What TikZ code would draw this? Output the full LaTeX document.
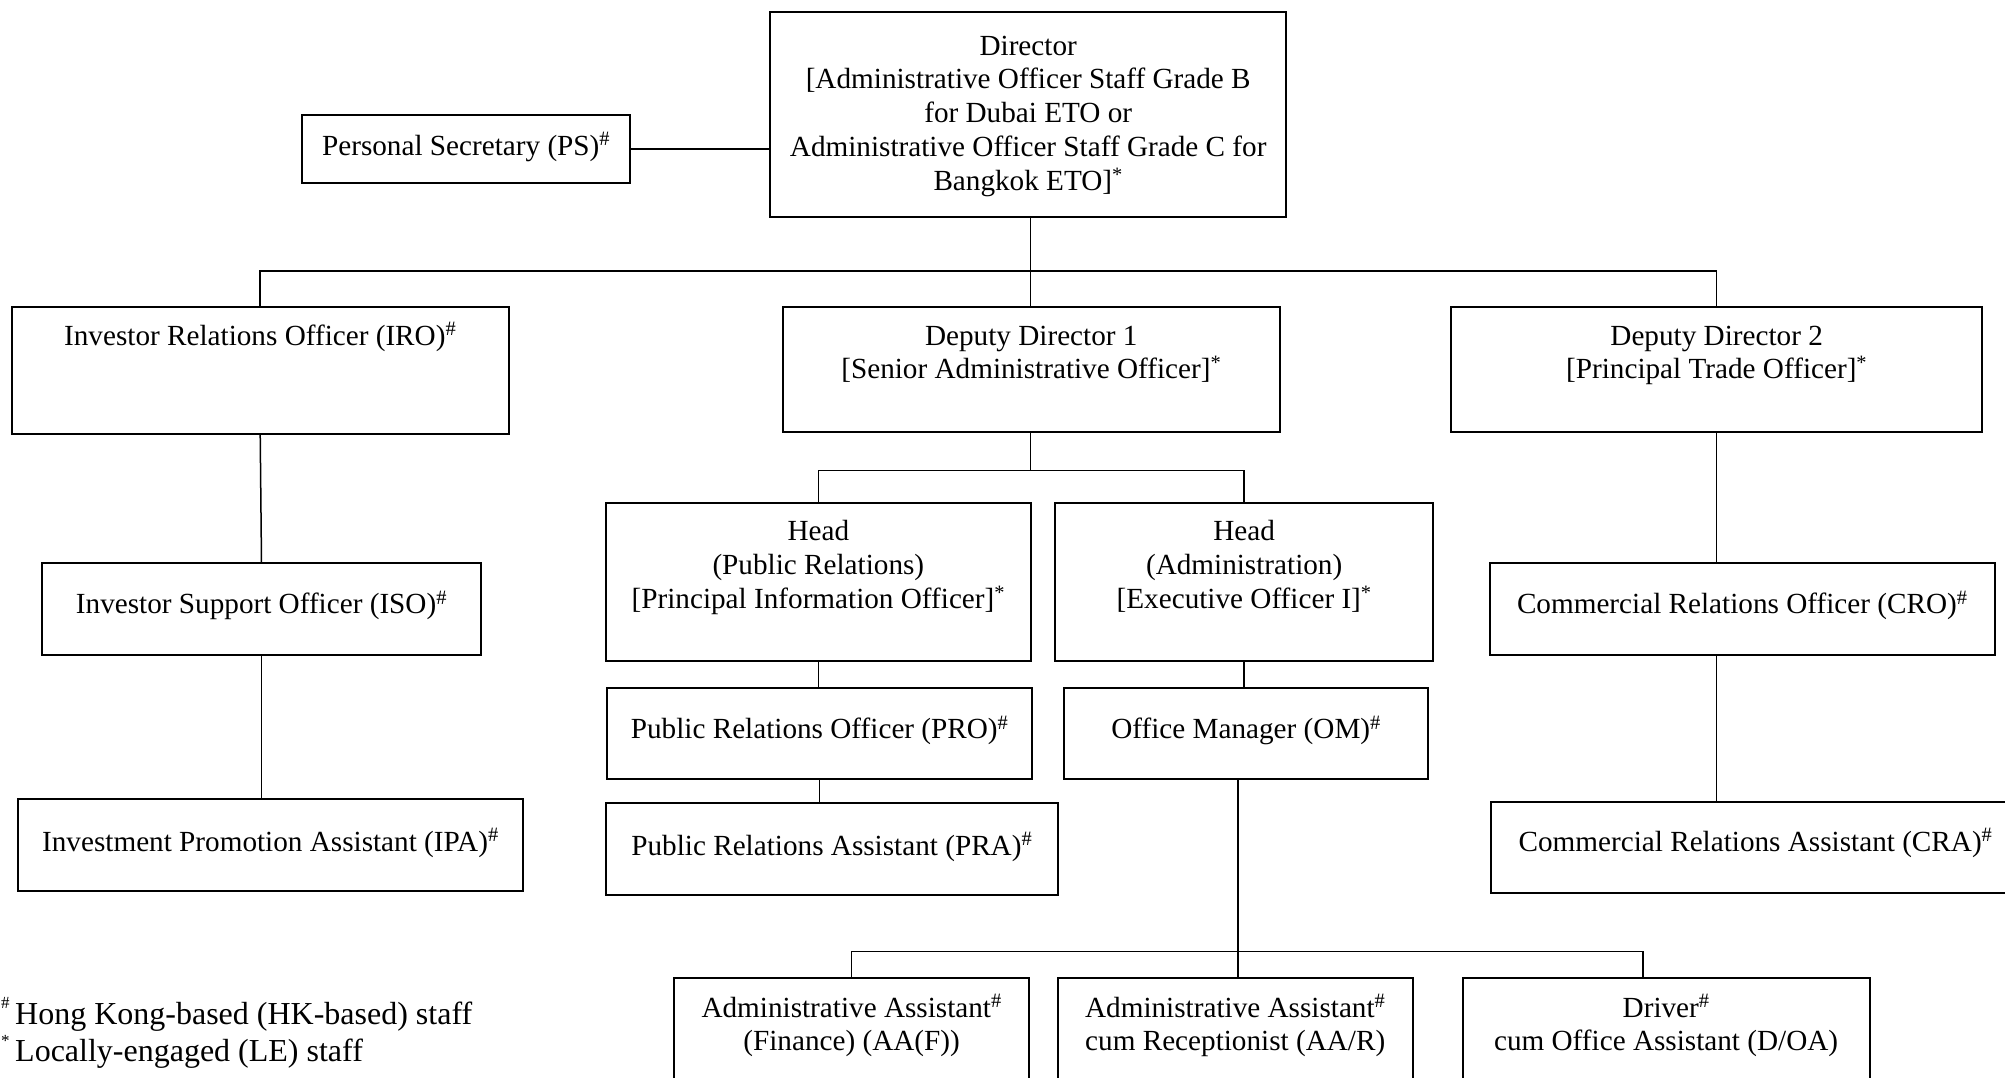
\documentclass[tikz,border=0pt]{standalone}
\usepackage{fontspec}
\setmainfont{Liberation Serif}
\tikzset{
  orgbox/.style={draw, line width=2pt, anchor=north west, inner sep=0pt, outer sep=0pt, font=\fontsize{29.2}{33.8}\selectfont},
  conn/.style={line width=1.5pt},
  legendtext/.style={anchor=base west, inner sep=0pt, font=\fontsize{32}{37}\selectfont},
  legendmark/.style={anchor=base west, inner sep=0pt, font=\fontsize{17}{17}\selectfont},
}
\newcommand\OB[7]{\node[orgbox] (#1) at (#2,#3) {\parbox[c][\dimexpr #5pt-#3pt\relax][t]{\dimexpr #4pt-#2pt\relax}{\centering\rule{0pt}{\dimexpr #6pt-#3pt\relax}#7\par}};}
\begin{document}
\begin{tikzpicture}[x=1pt,y=-1pt]
\clip (0,0) rectangle (2005,1077);
\fill[white] (0,0) rectangle (2005,1077);
\OB{DIR}{770}{11.5}{1286.4}{217.4}{55}{Director\\{}[Administrative Officer Staff Grade B\\for Dubai ETO or\\Administrative Officer Staff Grade C for\\Bangkok ETO]\textsuperscript{*}}
\OB{PS}{301.8}{115.1}{630.4}{182.9}{155}{Personal Secretary (PS)\textsuperscript{\#}}
\OB{IRO}{11.5}{306.9}{508.9}{433.5}{345}{Investor Relations Officer (IRO)\textsuperscript{\#}}
\OB{DD1}{782.6}{306.9}{1280}{432.2}{345}{Deputy Director 1\\{}[Senior Administrative Officer]\textsuperscript{*}}
\OB{DD2}{1451.3}{306.9}{1982}{432.2}{345}{Deputy Director 2\\{}[Principal Trade Officer]\textsuperscript{*}}
\OB{ISO}{42.2}{562.6}{480.8}{654.7}{613.5}{Investor Support Officer (ISO)\textsuperscript{\#}}
\OB{IPA}{17.9}{799.2}{523}{891.3}{851}{Investment Promotion Assistant (IPA)\textsuperscript{\#}}
\OB{HPR}{606.1}{502.5}{1030.6}{661.1}{540.5}{Head\\(Public Relations)\\{}[Principal Information Officer]\textsuperscript{*}}
\OB{HAD}{1054.9}{502.5}{1433.4}{661.1}{540.5}{Head\\(Administration)\\{}[Executive Officer I]\textsuperscript{*}}
\OB{PRO}{607.4}{688}{1031.9}{778.7}{738.5}{Public Relations Officer (PRO)\textsuperscript{\#}}
\OB{PRA}{606.1}{803}{1057.5}{895.1}{855}{Public Relations Assistant (PRA)\textsuperscript{\#}}
\OB{OM}{1063.9}{688}{1428.3}{778.7}{738.5}{Office Manager (OM)\textsuperscript{\#}}
\OB{AAF}{673.9}{978.2}{1029.4}{1110}{1017}{Administrative Assistant\textsuperscript{\#}\\(Finance) (AA(F))}
\OB{AAR}{1057.5}{978.2}{1413}{1110}{1017}{Administrative Assistant\textsuperscript{\#}\\cum Receptionist (AA/R)}
\OB{DRV}{1462.8}{978.2}{1869.5}{1110}{1017}{Driver\textsuperscript{\#}\\cum Office Assistant (D/OA)}
\OB{CRO}{1489.7}{562.6}{1994.8}{654.7}{613.5}{Commercial Relations Officer (CRO)\textsuperscript{\#}}
\OB{CRA}{1491}{801.7}{2020}{892.5}{851}{Commercial Relations Assistant (CRA)\textsuperscript{\#}}
% bus points
\coordinate (b1) at (1030.6,271.1);
\coordinate (b2) at (1030.6,470.6);
\coordinate (b3) at (1237.8,951.3);
\coordinate (b4) at (1643.1,951.3);
% connectors
\draw[conn] (PS.east) -- (PS.east -| DIR.west);
\draw[conn] (b1 |- DIR.south) -- (b1 |- DD1.north);
\draw[conn] (IRO.north) |- (b1) -| (DD2.north);
\draw[conn] (IRO.south) -- (ISO.north);
\draw[conn] (ISO.south) -- (ISO.south |- IPA.north);
\draw[conn] (b2 |- DD1.south) -- (b2);
\draw[conn] (HPR.north) |- (b2) -| (HAD.north);
\draw[conn] (HPR.south) -- (HPR.south |- PRO.north);
\draw[conn] (PRO.south) -- (PRO.south |- PRA.north);
\draw[conn] (HAD.south) -- (HAD.south |- OM.north);
\draw[conn] (b3 |- OM.south) -- (b3 |- AAR.north);
\draw[conn] (AAF.north) |- (b4) -- (b4 |- DRV.north);
\draw[conn] (DD2.south) -- (DD2.south |- CRO.north);
\draw[conn] (DD2.south |- CRO.south) -- (DD2.south |- CRA.north);
% legend
\node[legendmark] (m1) at (1,1008) {\#};
\node[legendmark] (m2) at (1,1046) {*};
\node[legendtext] (l1) at (15,1024) {Hong Kong-based (HK-based) staff};
\node[legendtext] (l2) at (15,1061) {Locally-engaged (LE) staff};
\end{tikzpicture}
\end{document}
